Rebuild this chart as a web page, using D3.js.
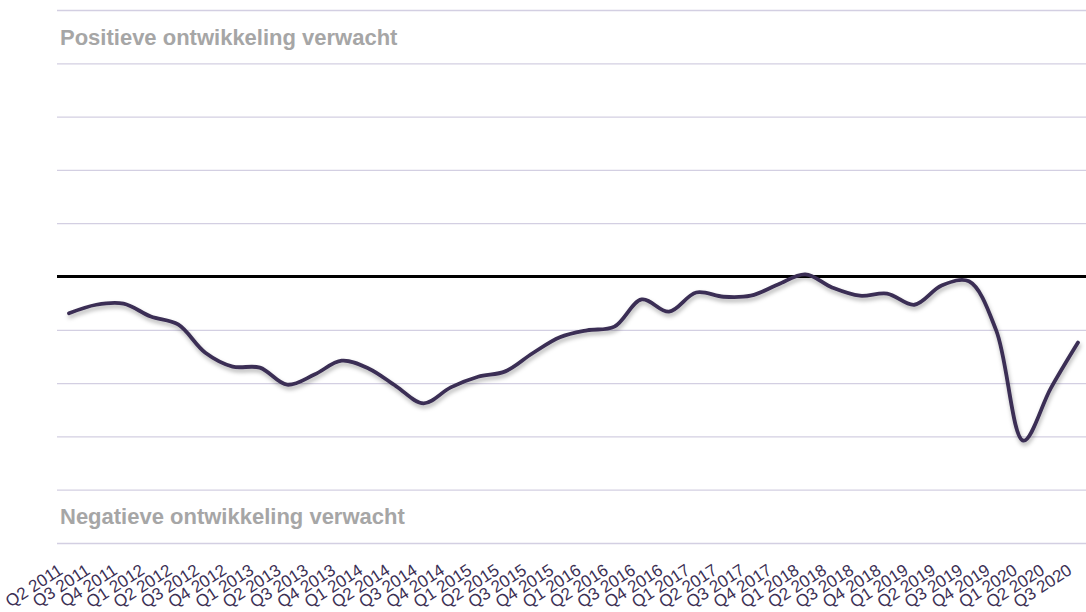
<!DOCTYPE html>
<html lang="nl">
<head>
<meta charset="UTF-8">
<title>Verwachte ontwikkeling</title>
<script src="https://d3js.org/d3.v7.min.js"></script>
<style>
    body{
        margin: 0;
        background: #fff;
        font-family: "Liberation Sans", Arial, sans-serif;
    }
    .zone{
        font: bold 22px "Liberation Sans", Arial, sans-serif;
        fill: #a6a6a6;
    }
    .x-axis text{
        font: 17px "Liberation Sans", Arial, sans-serif;
        fill: #3b2f54;
    }
</style>
</head>
<body>
<div id="grafiek"></div>
<script>
    const kwartalen = ['Q2 2011', 'Q3 2011', 'Q4 2011', 'Q1 2012', 'Q2 2012', 'Q3 2012', 'Q4 2012',
        'Q1 2013', 'Q2 2013', 'Q3 2013', 'Q4 2013', 'Q1 2014', 'Q2 2014', 'Q3 2014', 'Q4 2014',
        'Q1 2015', 'Q2 2015', 'Q3 2015', 'Q4 2015', 'Q1 2016', 'Q2 2016', 'Q3 2016', 'Q4 2016',
        'Q1 2017', 'Q2 2017', 'Q3 2017', 'Q4 2017', 'Q1 2018', 'Q2 2018', 'Q3 2018', 'Q4 2018',
        'Q1 2019', 'Q2 2019', 'Q3 2019', 'Q4 2019', 'Q1 2020', 'Q2 2020', 'Q3 2020']
    const waarden = [-0.69, -0.53, -0.51, -0.75, -0.90, -1.43, -1.69, -1.71, -2.03, -1.84,
        -1.58, -1.73, -2.06, -2.38, -2.08, -1.88, -1.78, -1.44, -1.14, -1.01, -0.94, -0.43,
        -0.66, -0.30, -0.38, -0.36, -0.15, 0.04, -0.21, -0.36, -0.32, -0.53, -0.17, -0.09,
        -1.01, -3.08, -2.10, -1.24]
    const rasterlijnen = [-5, -4, -3, -2, -1, 0, 1, 2, 3, 4, 5]
    const labels = ['Positieve ontwikkeling verwacht', 'Negatieve ontwikkeling verwacht']

    const breedte = 1086, hoogte = 612
    const links = 57

    const svg = d3.select('#grafiek')
        .append('svg')
        .attr('width', breedte)
        .attr('height', hoogte)

    const defs = svg.append('defs')
    defs.append('filter')
        .attr('id', 'schaduw')
        .attr('x', '-5%').attr('y', '-20%')
        .attr('width', '110%').attr('height', '140%')
        .append('feDropShadow')
        .attr('dx', 1).attr('dy', 3)
        .attr('stdDeviation', 2)
        .attr('flood-color', '#000')
        .attr('flood-opacity', 0.3)

    const x = d3.scalePoint().domain(kwartalen).range([69, 1078])
    const y = d3.scaleLinear().domain([-5, 5]).range([543, 10])

    // rasterlijnen
    svg.selectAll('.raster')
        .data(rasterlijnen.filter(d => d !== 0))
        .enter()
        .append('line')
        .attr('class', 'raster')
        .attr('x1', links).attr('x2', breedte)
        .attr('y1', d => y(d) + 0.5).attr('y2', d => y(d) + 0.5)
        .style('stroke', '#d3cfe2')
        .style('stroke-width', 1.3)

    svg.append('line')
        .attr('x1', links).attr('x2', breedte)
        .attr('y1', y(0)).attr('y2', y(0))
        .style('stroke', '#000')
        .style('stroke-width', 3)

    svg.append('text')
        .attr('class', 'zone')
        .attr('x', 60).attr('y', y(4.5) + 8)
        .text(labels[0])

    svg.append('text')
        .attr('class', 'zone')
        .attr('x', 60).attr('y', y(-4.5) + 8)
        .text(labels[1])

    const lijn = d3.line()
        .x((d, i) => x(kwartalen[i]))
        .y(d => y(d))
        .curve(d3.curveCatmullRom.alpha(0.5))

    svg.append('path')
        .datum(waarden)
        .attr('d', lijn)
        .attr('filter', 'url(#schaduw)')
        .style('fill', 'none')
        .style('stroke', '#3b2f54')
        .style('stroke-width', 3.8)
        .style('stroke-linecap', 'round')

    const xAxis = d3.axisBottom(x).tickSize(0)
    const gx = svg.append('g')
        .attr('class', 'x-axis')
        .attr('transform', 'translate(0, 573)')
        .call(xAxis)
    gx.select('.domain').remove()
    gx.selectAll('text')
        .attr('y', 0).attr('dy', 0)
        .attr('text-anchor', 'end')
        .attr('transform', 'translate(-5.5, 0) rotate(-33)')
</script>
</body>
</html>
